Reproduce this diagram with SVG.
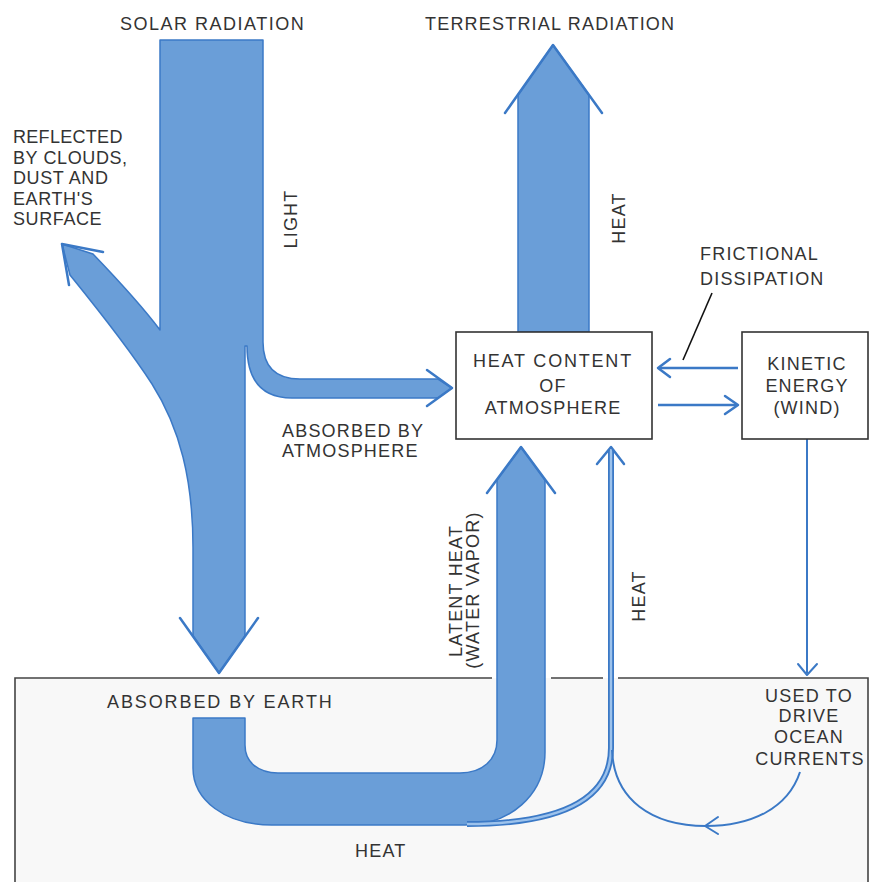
<svg xmlns="http://www.w3.org/2000/svg" width="877" height="882" viewBox="0 0 877 882">
<defs>
<style>
.flow{fill:#6a9ed8;stroke:#3b79c6;stroke-width:1.5;stroke-linejoin:round}
.barb{fill:none;stroke:#3b79c6;stroke-width:2.5;stroke-linecap:round;stroke-linejoin:round}
.thin{fill:none;stroke:#3b79c6;stroke-width:2}
.thick{fill:none;stroke:#3b79c6;stroke-width:2.6}
.box{fill:#ffffff;stroke:#333;stroke-width:1.6}
.edge{fill:none;stroke:#444;stroke-width:1.6}
text{font-family:"Liberation Sans",Arial,sans-serif;font-size:18px;fill:#333333;letter-spacing:1.2px}
.c{text-anchor:middle}
</style>
</defs>
<rect width="877" height="882" fill="#ffffff"/>

<g id="earth">
<rect x="15" y="678" width="853" height="210" fill="#f8f8f8"/>
<path class="edge" d="M15,882 V678 H492 M551,678 H603 M618,678 H868 V882"/>
<text x="107" y="708" style="letter-spacing:1.9px">ABSORBED BY EARTH</text>
<text x="355" y="857">HEAT</text>
</g>

<g id="connectors">
<g id="solar-flow">
<path class="flow" d="M160,40 H263 V342 Q263,379 300,379 H438 L452,388 L438,398 H292 Q247,398 247,346 H245 V636 L219,673 L193,636 V548 C193,480 180,428 152,384 C130,350 100,312 70,275 L62,244 L93,254 C118,280 142,306 160,330 Z"/>
<polyline class="barb" points="69,285 62,244 103,252"/>
<polyline class="barb" points="427,370 452,388 427,406"/>
<polyline class="barb" points="180,618 219,673 258,618"/>
</g>
<g id="terrestrial-flow">
<path class="flow" d="M518,332 V95 L553,45 L589,95 V332 Z"/>
<polyline class="barb" points="505,113 553,45 602,113"/>
</g>
<g id="latent-flow">
<path class="flow" d="M193,718 V768 C193,800 225,825 272,825 H465 C510,825 545,795 545,752 V480 L521,447 L497,480 V740 C497,760 482,773 460,773 H278 C258,773 245,762 245,745 V718 Z"/>
<polyline class="barb" points="487,493 521,447 555,493"/>
</g>
<g id="heat-line">
<path d="M467,824 C560,824 611,800 611,748 V450" fill="none" stroke="#3b79c6" stroke-width="6"/>
<path d="M467,824 C560,824 611,800 611,748 V450" fill="none" stroke="#9cc2ec" stroke-width="2.4"/>
<polyline class="barb" points="597,464 611,447 624,464"/>
</g>
<line class="thick" x1="738" y1="368" x2="659" y2="368"/>
<polyline class="barb" points="670,359 658,368 670,377"/>
<line class="thick" x1="658" y1="405" x2="737" y2="405"/>
<polyline class="barb" points="725,396 738,405 725,414"/>
<line class="thin" x1="807" y1="439" x2="807" y2="673"/>
<polyline class="barb" points="798,664 807,675 817,664" style="stroke-width:2"/>
<path class="thin" d="M800,772 C788,808 752,826 706,826 C652,826 614,800 612,750"/>
<polyline class="barb" points="718,817 705,826 718,834" style="stroke-width:2"/>
<line x1="712" y1="293" x2="683" y2="360" stroke="#111" stroke-width="1.6"/>
</g>

<g id="heat-content">
<rect class="box" x="456" y="332" width="196" height="107"/>
<text class="c" x="553" y="367" style="letter-spacing:1.8px">HEAT CONTENT</text>
<text class="c" x="553" y="392">OF</text>
<text class="c" x="553" y="414">ATMOSPHERE</text>
</g>

<g id="kinetic-energy">
<rect class="box" x="742" y="332" width="126" height="107"/>
<text class="c" x="807" y="370">KINETIC</text>
<text class="c" x="807" y="392">ENERGY</text>
<text class="c" x="807" y="414">(WIND)</text>
</g>

<g id="labels">
<text x="120" y="30" style="letter-spacing:1.5px">SOLAR RADIATION</text>
<text x="425" y="30">TERRESTRIAL RADIATION</text>
<text x="13" y="143" style="letter-spacing:0.3px">REFLECTED</text>
<text x="13" y="164" style="letter-spacing:0.6px">BY CLOUDS,</text>
<text x="13" y="184" style="letter-spacing:0.6px">DUST AND</text>
<text x="13" y="205" style="letter-spacing:0.6px">EARTH'S</text>
<text x="13" y="225" style="letter-spacing:0.6px">SURFACE</text>
<text class="c" transform="translate(297,219) rotate(-90)">LIGHT</text>
<text class="c" transform="translate(625,218) rotate(-90)">HEAT</text>
<text x="700" y="260">FRICTIONAL</text>
<text x="700" y="285">DISSIPATION</text>
<text x="282" y="437">ABSORBED BY</text>
<text x="282" y="457">ATMOSPHERE</text>
<text class="c" transform="translate(462,591) rotate(-90)">LATENT HEAT</text>
<text class="c" transform="translate(479,590) rotate(-90)">(WATER VAPOR)</text>
<text class="c" transform="translate(645,596) rotate(-90)">HEAT</text>
<text class="c" x="809" y="702">USED TO</text>
<text class="c" x="809" y="722">DRIVE</text>
<text class="c" x="809" y="743">OCEAN</text>
<text class="c" x="810" y="765">CURRENTS</text>
</g>
</svg>
